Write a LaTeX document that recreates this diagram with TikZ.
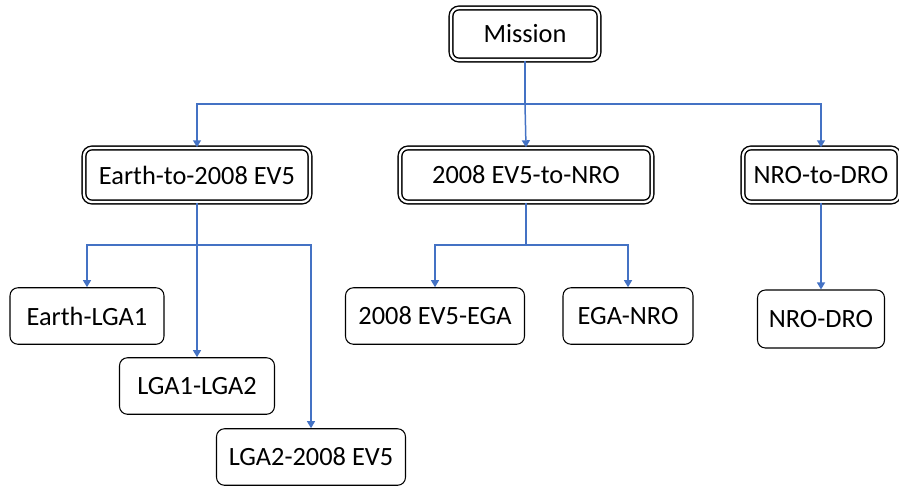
\documentclass[tikz,border=0pt]{standalone}
\usepackage{fontspec}
\setmainfont{Carlito}
\usetikzlibrary{arrows.meta}
\definecolor{linkblue}{RGB}{68,114,196}

\begin{document}
\begin{tikzpicture}[
  x=0.02cm, y=-0.02cm,
  phase/.style={rectangle,rounded corners=4.5pt,draw,double,line width=0.8pt,double distance=1.3pt,minimum height=1.08cm,font=\fontsize{15}{18}\selectfont},
  leg/.style={rectangle,rounded corners=4.5pt,draw,line width=0.6pt,minimum height=1.13cm,font=\fontsize{15}{18}\selectfont},
  link/.style={draw=linkblue,line width=0.85pt},
  arrow/.style={link,-{Triangle[width=4.5pt,length=4pt]}}
]
  \useasboundingbox (0,0) rectangle (899,490);
  \node[phase,minimum width=2.96cm,minimum height=1.04cm] (mission) at (525,34) {Mission};
  \node[phase,minimum width=4.52cm] (etoev) at (197,175) {Earth-to-2008 EV5};
  \node[phase,minimum width=5.04cm] (evtonro) at (526,175) {2008 EV5-to-NRO};
  \node[phase,minimum width=3.12cm] (nrotodro) at (821,175) {NRO-to-DRO};
  \node[leg,minimum width=3.08cm] (elga) at (87,316) {Earth-LGA1};
  \node[leg,minimum width=3.1cm] (lgalga) at (197,386) {LGA1-LGA2};
  \node[leg,minimum width=3.78cm] (lgaev) at (311,457) {LGA2-2008 EV5};
  \node[leg,minimum width=3.58cm] (evega) at (435,316) {2008 EV5-EGA};
  \node[leg,minimum width=2.6cm] (eganro) at (628,316) {EGA-NRO};
  \node[leg,minimum width=2.54cm,minimum height=1.16cm] (nrodro) at (821,319) {NRO-DRO};
  \coordinate (mbus) at (525,104);
  \coordinate (ebus) at (197,245);
  \coordinate (nbus) at (526,245);
  \draw[link] (mission) -- (mbus);
  \draw[arrow] (mbus) -| (etoev.north);
  \draw[arrow] (mbus) -- (evtonro.north);
  \draw[arrow] (mbus) -| (nrotodro.north);
  \draw[link] (etoev) -- (ebus);
  \draw[arrow] (ebus) -| (elga.north);
  \draw[arrow] (ebus) -- (lgalga.north);
  \draw[arrow] (ebus) -| (lgaev.north);
  \draw[link] (evtonro) -- (nbus);
  \draw[arrow] (nbus) -| (evega.north);
  \draw[arrow] (nbus) -| (eganro.north);
  \draw[arrow] (nrotodro) -- (nrodro);
\end{tikzpicture}
\end{document}
